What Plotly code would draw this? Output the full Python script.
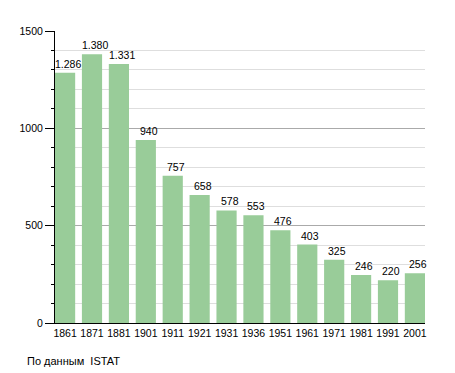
import plotly.graph_objects as go

years = ["1861", "1871", "1881", "1901", "1911", "1921", "1931", "1936", "1951", "1961", "1971", "1981", "1991", "2001"]
population = [1286, 1380, 1331, 940, 757, 658, 578, 553, 476, 403, 325, 246, 220, 256]
labels = [f"{v:,}".replace(",", ".") for v in population]

W = 375
H = 292
fig = go.Figure(go.Bar(
    x=years, y=population,
    marker=dict(color="#99cc99", line=dict(width=0)),
    cliponaxis=False,
))

value_annotations = [
    dict(x=i, y=val, text=lab, xref="x", yref="y", xanchor="center", yanchor="bottom",
         showarrow=False, xshift=3, yshift=1, font=dict(size=10.5, color="black"))
    for i, (val, lab) in enumerate(zip(population, labels))
]

fig.update_layout(
    width=447, height=365,
    margin=dict(l=42, r=30, t=23, b=50),
    paper_bgcolor="white", plot_bgcolor="white",
    font=dict(family="Liberation Sans, Arial, sans-serif", size=10.5, color="black"),
    bargap=0.25, showlegend=False,
    xaxis=dict(type="category", range=[-0.375, len(years) - 1 + 0.375],
               showline=True, linecolor="black", linewidth=1,
               ticks="", showgrid=False, tickfont=dict(size=10.5)),
    yaxis=dict(range=[0, 1500], tickvals=[0, 500, 1000, 1500], showline=True,
               linecolor="black", linewidth=1, ticks="outside", ticklen=9,
               tickcolor="black", gridcolor="#aaaaaa", gridwidth=1, zeroline=False,
               minor=dict(dtick=100, tick0=0, ticks="outside", ticklen=3, tickcolor="black",
                          showgrid=True, gridcolor="#dedede", gridwidth=1),
               tickfont=dict(size=10.5)),
    annotations=value_annotations + [
        dict(text="По данным  ISTAT", x=-30 / W, y=-38 / H, xref="paper", yref="paper",
             xanchor="left", yanchor="middle", showarrow=False, font=dict(size=11))],
)
fig.write_html("out.html")
